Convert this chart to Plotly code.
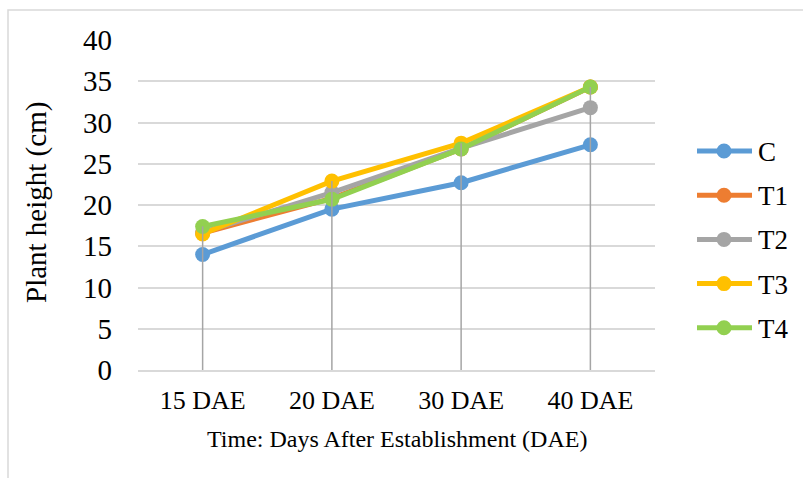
import plotly.graph_objects as go

# Plant height measurements (cm) by sampling time
categories = ["15 DAE", "20 DAE", "30 DAE", "40 DAE"]
series_names = ["C", "T1", "T2", "T3", "T4"]
C = [14.0, 19.5, 22.7, 27.3]
T1 = [16.6, 20.8, 26.8, 34.3]
T2 = [16.7, 21.5, 26.9, 31.8]
T3 = [16.5, 22.9, 27.5, 34.3]
T4 = [17.4, 20.7, 26.8, 34.3]
y_ticks = [0, 5, 10, 15, 20, 25, 30, 35, 40]

series_values = [C, T1, T2, T3, T4]
colors = ["#5B9BD5", "#ED7D31", "#A5A5A5", "#FFC000", "#92D050"]

W, H = 803, 478
L, R, T, B = 138, 148, 40, 108
pw, ph = W - L - R, H - T - B


def px_x(x):
    """Pixel column -> paper x."""
    return (x - L) / pw


def px_y(y):
    """Pixel row (from top) -> paper y."""
    return (H - B - y) / ph


serif = "Liberation Serif, Times New Roman, serif"

fig = go.Figure()
for name, vals, col in zip(series_names, series_values, colors):
    fig.add_trace(go.Scatter(
        x=categories, y=vals, name=name, mode="lines+markers",
        line=dict(color=col, width=5),
        marker=dict(color=col, size=15),
        showlegend=False,
    ))

# Drop lines from the highest point of each category to the axis
drop_x, drop_y = [], []
for i, cat in enumerate(categories):
    top = max(v[i] for v in series_values)
    drop_x += [cat, cat, None]
    drop_y += [0, top, None]
fig.add_trace(go.Scatter(
    x=drop_x, y=drop_y, mode="lines", showlegend=False, hoverinfo="skip",
    line=dict(color="#A5A5A5", width=1.5),
))

# Light outer frame around the chart
fig.add_shape(
    type="rect", xref="paper", yref="paper",
    x0=px_x(8), x1=px_x(W + 10), y0=px_y(H + 10), y1=px_y(10),
    line=dict(color="#D9D9D9", width=1.5), layer="below",
)

# Legend: line + marker swatch with a serif label
leg_x0, leg_x1, leg_mx, leg_tx = 697, 752, 724, 756
leg_y0, leg_dy = 151, 44.2
r = 7.5
for i, (name, col) in enumerate(zip(series_names, colors)):
    cy = leg_y0 + i * leg_dy
    fig.add_shape(type="line", xref="paper", yref="paper",
                  x0=px_x(leg_x0), x1=px_x(leg_x1), y0=px_y(cy), y1=px_y(cy),
                  line=dict(color=col, width=5))
    fig.add_shape(type="circle", xref="paper", yref="paper",
                  x0=px_x(leg_mx - r), x1=px_x(leg_mx + r),
                  y0=px_y(cy + r), y1=px_y(cy - r),
                  fillcolor=col, line=dict(color=col, width=0))
    fig.add_annotation(text=name, xref="paper", yref="paper",
                       x=px_x(leg_tx), y=px_y(cy + 1), xanchor="left", yanchor="middle",
                       showarrow=False, font=dict(size=27, family=serif, color="black"))

# Axis titles
fig.add_annotation(text="Plant height (cm)", xref="paper", yref="paper",
                   x=px_x(36), y=px_y(203), xanchor="center", yanchor="middle",
                   textangle=-90, showarrow=False,
                   font=dict(size=29, family=serif, color="black"))
fig.add_annotation(text="Time: Days After Establishment (DAE)", xref="paper", yref="paper",
                   x=px_x(397), y=px_y(439), xanchor="center", yanchor="middle",
                   showarrow=False, font=dict(size=24, family=serif, color="black"))

fig.update_layout(
    width=W, height=H,
    margin=dict(l=L, r=R, t=T, b=B, autoexpand=False),
    paper_bgcolor="white", plot_bgcolor="white",
    font=dict(family=serif, color="black"),
    showlegend=False,
    xaxis=dict(
        type="category", range=[-0.5, 3.5],
        showgrid=False, showline=True, linecolor="#D9D9D9", linewidth=1.5,
        ticks="", tickfont=dict(size=26, family=serif),
        ticklabelstandoff=6,
        fixedrange=True,
    ),
    yaxis=dict(
        range=[0, 40], tickvals=y_ticks, ticktext=[str(v) for v in y_ticks],
        showgrid=True, gridcolor="#D9D9D9", gridwidth=1.5,
        zeroline=False, showline=False, ticks="",
        ticklabelstandoff=25,
        tickfont=dict(size=29, family=serif),
        fixedrange=True,
    ),
)

fig.write_html("out.html")
